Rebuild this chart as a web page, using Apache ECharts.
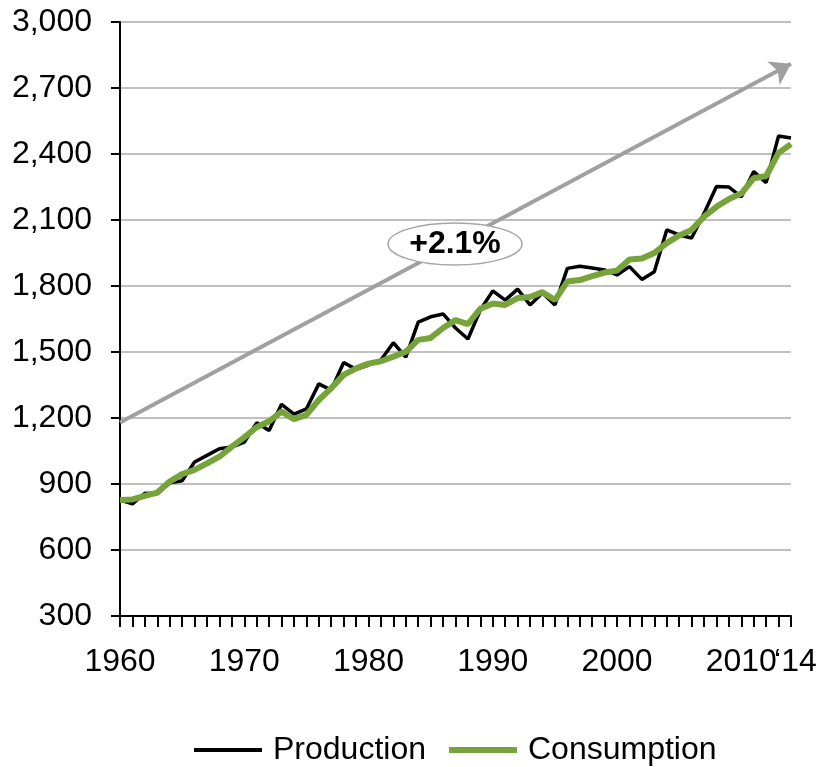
<!DOCTYPE html>
<html>
<head>
<meta charset="utf-8">
<script src="https://cdn.jsdelivr.net/npm/echarts@6/dist/echarts.min.js"></script>
<style>
    html, body { margin: 0; padding: 0; background: #fff; }
    #chart { width: 821px; height: 767px; }
</style>
</head>
<body>
<div id="chart"></div>
<script>
var years = [];
for (var y = 1960; y <= 2014; y++) { years.push(String(y)); }

var production = [
    827, 810, 858, 856, 905, 915, 1000, 1030, 1060, 1068,
    1090, 1178, 1143, 1262, 1218, 1241, 1355, 1327, 1452, 1421,
    1441, 1464, 1542, 1477, 1636, 1660, 1673, 1609, 1559, 1691,
    1778, 1736, 1786, 1714, 1768, 1714, 1880, 1890, 1882, 1873,
    1850, 1888, 1830, 1865, 2055, 2032, 2018, 2130, 2252, 2250,
    2205, 2320, 2270, 2482, 2473
];
var consumption = [
    827, 830, 846, 861, 911, 945, 964, 994, 1024, 1070,
    1112, 1158, 1185, 1229, 1195, 1214, 1282, 1336, 1396, 1426,
    1447, 1458, 1479, 1501, 1555, 1564, 1609, 1645, 1627, 1697,
    1720, 1714, 1745, 1750, 1772, 1736, 1820, 1827, 1845, 1861,
    1870, 1920, 1925, 1950, 1995, 2030, 2055, 2115, 2160, 2195,
    2220, 2290, 2300, 2405, 2445
];
// trend arrow (start / end)
var trendYears = ['1960', '2014'];
var trendValues = [1180, 2810];
var trendLabel = '+2.1%';

var FONT = '"Liberation Sans", Arial, sans-serif';

var chart = echarts.init(document.getElementById('chart'));

var option = {
    animation: false,
    textStyle: { fontFamily: FONT },
    grid: { left: 120, right: 30, top: 22, bottom: 151 },
    legend: {
        left: 187,
        top: 729,
        itemWidth: 68,
        itemHeight: 14,
        itemGap: 20,
        itemStyle: { color: 'transparent', borderWidth: 0, opacity: 0 },
        textStyle: { fontSize: 32, color: '#000', fontFamily: FONT, padding: [0, 0, 0, 6] },
        data: [
            { name: 'Production', lineStyle: { width: 4 } },
            { name: 'Consumption', lineStyle: { width: 6 } }
        ]
    },
    xAxis: {
        type: 'category',
        data: years,
        boundaryGap: false,
        axisLine: { lineStyle: { color: '#000', width: 2 } },
        axisTick: { interval: 0, length: 11, lineStyle: { color: '#000', width: 2 } },
        axisLabel: {
            interval: 0,
            margin: 30,
            fontSize: 32,
            color: '#000',
            fontFamily: FONT,
            formatter: function (v) {
                var n = parseInt(v);
                if (n === 2014) return ' \u201814';
                return n % 10 === 0 ? v : '';
            }
        },
        splitLine: { show: false }
    },
    yAxis: {
        type: 'value',
        min: 300,
        max: 3000,
        interval: 300,
        axisLine: { show: true, lineStyle: { color: '#000', width: 2 } },
        axisTick: { show: true, length: 9, lineStyle: { color: '#000', width: 2 } },
        axisLabel: {
            margin: 28,
            fontSize: 32,
            color: '#000',
            fontFamily: FONT,
            formatter: function (v) { return v.toLocaleString('en-US'); }
        },
        splitLine: { lineStyle: { color: '#c0c0c0', width: 2 } }
    },
    series: [
        {
            name: 'Production',
            type: 'line',
            data: production,
            symbol: 'none',
            lineStyle: { color: '#000', width: 3.5 },
            itemStyle: { color: '#000' },
            z: 3,
            markLine: {
                silent: true,
                symbol: ['none', 'arrow'],
                symbolSize: 20,
                label: { show: false },
                lineStyle: { color: '#a0a0a0', width: 4, type: 'solid' },
                data: [[
                    { coord: [trendYears[0], trendValues[0]] },
                    { coord: [trendYears[1], trendValues[1]] }
                ]]
            }
        },
        {
            name: 'Consumption',
            type: 'line',
            data: consumption,
            symbol: 'none',
            lineStyle: { color: '#76a33a', width: 6 },
            itemStyle: { color: '#76a33a' },
            z: 4
        }
    ],
    graphic: [
        {
            type: 'ellipse',
            shape: { cx: 455, cy: 244, rx: 67, ry: 21 },
            style: { fill: '#fff', stroke: '#a6a6a6', lineWidth: 1.5 },
            z: 100
        },
        {
            type: 'text',
            x: 455,
            y: 244,
            style: {
                text: trendLabel,
                font: 'bold 32px ' + FONT,
                fill: '#000',
                align: 'center',
                verticalAlign: 'middle'
            },
            z: 101
        }
    ]
};

chart.setOption(option);
</script>
</body>
</html>
